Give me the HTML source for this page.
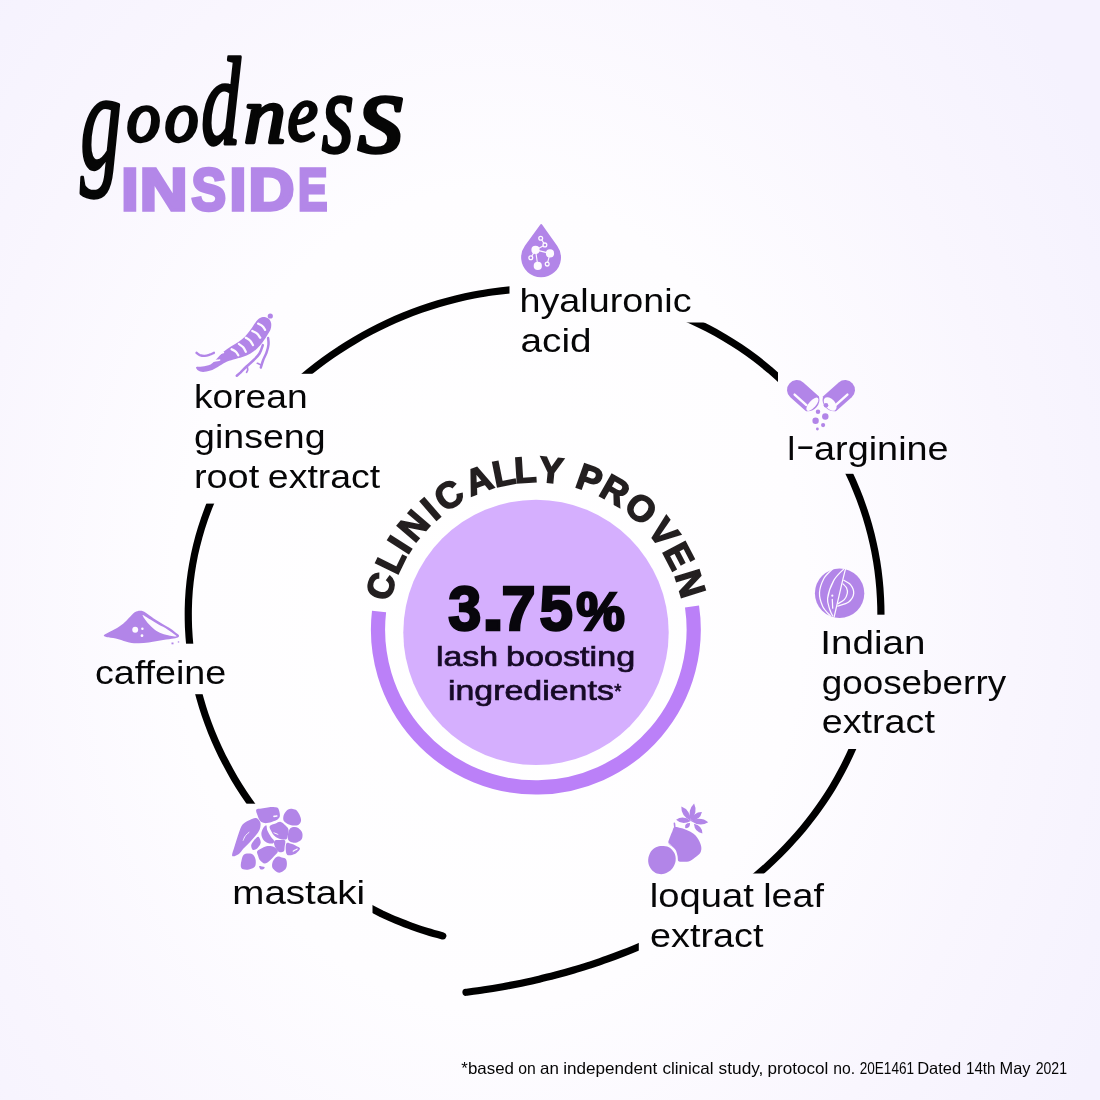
<!DOCTYPE html>
<html lang="en">
<head>
<meta charset="utf-8">
<title>goodness inside</title>
<style>
html,body{margin:0;padding:0;background:#f6f3fe;}
body{width:1100px;height:1100px;overflow:hidden;}
svg{display:block;will-change:transform;}
text{font-family:"Liberation Sans",sans-serif;}
.lbl{font-size:33px;fill:#060607;stroke:#060607;stroke-width:0;}
.scr{font-family:"Liberation Serif",serif;}
.ctr{font-size:28.5px;fill:#160a26;stroke:#160a26;stroke-width:0.7px;}
.foot{font-size:16.5px;fill:#050505;}
</style>
</head>
<body>
<svg width="1100" height="1100" viewBox="0 0 1100 1100">
<defs>
<radialGradient id="bg" gradientUnits="userSpaceOnUse" cx="490" cy="600" r="700" gradientTransform="translate(0 600) scale(1 1.3) translate(0 -600)">
<stop offset="0" stop-color="#ffffff"/>
<stop offset="0.45" stop-color="#fefdff"/>
<stop offset="0.75" stop-color="#f9f6fe"/>
<stop offset="1" stop-color="#f5f2fe"/>
</radialGradient>

<mask id="gapmask" maskUnits="userSpaceOnUse" x="0" y="0" width="1100" height="1100">
<rect x="0" y="0" width="1100" height="1100" fill="#fff"/>
<rect x="172.5" y="803.7" width="200.0" height="126.3" fill="#000"/>
<rect x="80.0" y="643.7" width="160.0" height="50.5" fill="#000"/>
<rect x="180.0" y="373.8" width="220.0" height="129.8" fill="#000"/>
<rect x="509.5" y="200.0" width="202.5" height="122.5" fill="#000"/>
<rect x="778.0" y="360.0" width="182.0" height="113.8" fill="#000"/>
<rect x="800.0" y="614.7" width="220.0" height="134.3" fill="#000"/>
<rect x="638.8" y="873.5" width="201.2" height="86.5" fill="#000"/>
</mask>
</defs>
<rect x="0" y="0" width="1100" height="1100" fill="url(#bg)"/>
<g mask="url(#gapmask)"><path d="M442.8 935.9 C440.2 935.2 432.4 933.1 427.2 931.5 C422.0 929.9 416.9 928.2 411.8 926.3 C406.6 924.5 401.6 922.5 396.5 920.4 C391.5 918.3 386.5 916.0 381.5 913.7 C376.6 911.3 371.7 908.8 366.9 906.2 C362.0 903.6 357.2 900.9 352.5 898.0 C347.8 895.2 343.1 892.2 338.5 889.1 C333.9 886.0 329.4 882.8 324.9 879.5 C320.5 876.1 316.1 872.7 311.8 869.1 C307.5 865.6 303.2 861.9 299.1 858.1 C294.9 854.3 290.9 850.4 286.9 846.4 C282.9 842.4 279.0 838.3 275.3 834.1 C271.5 829.9 267.8 825.6 264.2 821.2 C260.6 816.8 257.1 812.2 253.7 807.6 C250.3 803.0 247.0 798.3 243.8 793.5 C240.7 788.7 237.6 783.8 234.6 778.8 C231.7 773.8 228.9 768.8 226.2 763.6 C223.4 758.5 220.8 753.2 218.4 747.9 C215.9 742.6 213.6 737.2 211.4 731.8 C209.2 726.3 207.1 720.8 205.2 715.2 C203.3 709.6 201.6 703.9 200.0 698.2 C198.3 692.4 196.9 686.7 195.6 680.8 C194.3 675.0 193.2 669.1 192.2 663.2 C191.3 657.2 190.5 651.3 189.8 645.3 C189.2 639.3 188.8 633.2 188.5 627.2 C188.3 621.2 188.2 615.1 188.3 609.0 C188.4 603.0 188.7 596.9 189.2 590.8 C189.7 584.7 190.4 578.7 191.3 572.6 C192.2 566.6 193.3 560.6 194.5 554.6 C195.8 548.6 197.3 542.7 198.9 536.8 C200.5 530.9 202.4 525.0 204.4 519.2 C206.4 513.4 208.5 507.7 210.9 502.0 C213.2 496.4 215.8 490.8 218.4 485.3 C221.1 479.7 224.0 474.3 227.0 468.9 C230.0 463.6 233.1 458.3 236.4 453.2 C239.7 448.0 243.2 442.9 246.7 437.9 C250.3 433.0 254.0 428.1 257.9 423.3 C261.7 418.6 265.7 413.9 269.8 409.4 C273.9 404.8 278.1 400.4 282.5 396.1 C286.8 391.7 291.2 387.5 295.8 383.4 C300.3 379.4 305.0 375.4 309.7 371.5 C314.5 367.7 319.3 364.0 324.2 360.4 C329.1 356.8 334.2 353.3 339.3 350.0 C344.3 346.6 349.5 343.4 354.8 340.3 C360.0 337.2 365.3 334.2 370.7 331.4 C376.1 328.5 381.6 325.8 387.1 323.2 C392.6 320.6 398.2 318.2 403.9 315.9 C409.5 313.6 415.2 311.4 420.9 309.4 C426.7 307.4 432.5 305.5 438.3 303.7 C444.2 302.0 450.1 300.4 456.0 298.9 C462.0 297.5 467.9 296.2 473.9 295.0 C479.9 293.9 486.0 292.8 492.0 292.0 C498.1 291.1 504.2 290.4 510.3 289.9 C516.4 289.3 522.5 288.9 528.6 288.7 C534.7 288.4 540.9 288.3 547.0 288.4 C553.2 288.5 559.3 288.7 565.5 289.1 C571.6 289.5 577.7 290.0 583.8 290.7 C590.0 291.4 596.1 292.2 602.2 293.3 C608.3 294.3 614.3 295.4 620.4 296.8 C626.4 298.1 632.4 299.6 638.4 301.2 C644.3 302.8 650.3 304.6 656.2 306.6 C662.0 308.5 667.9 310.6 673.7 312.9 C679.5 315.2 685.2 317.6 690.9 320.1 C696.5 322.7 702.1 325.4 707.7 328.3 C713.2 331.1 718.7 334.2 724.0 337.3 C729.4 340.5 734.7 343.8 739.9 347.3 C745.1 350.8 750.2 354.4 755.2 358.2 C760.1 361.9 765.0 365.9 769.8 369.9 C774.5 374.0 779.2 378.2 783.7 382.5 C788.2 386.9 792.6 391.4 796.8 396.0 C801.0 400.6 805.1 405.3 809.1 410.2 C813.0 415.0 816.8 420.0 820.5 425.1 C824.1 430.1 827.6 435.3 831.0 440.6 C834.3 445.9 837.5 451.3 840.5 456.7 C843.5 462.2 846.4 467.7 849.1 473.3 C851.8 478.9 854.3 484.6 856.6 490.4 C859.0 496.1 861.2 502.0 863.2 507.8 C865.2 513.7 867.1 519.6 868.7 525.5 C870.4 531.5 871.9 537.5 873.2 543.5 C874.6 549.5 875.7 555.6 876.7 561.6 C877.7 567.7 878.5 573.8 879.1 579.9 C879.8 586.0 880.2 592.1 880.5 598.2 C880.8 604.3 881.0 610.4 880.9 616.5 C880.9 622.6 880.7 628.6 880.3 634.7 C879.9 640.7 879.4 646.8 878.7 652.8 C878.0 658.8 877.1 664.7 876.1 670.7 C875.1 676.6 873.9 682.5 872.6 688.3 C871.2 694.2 869.8 700.0 868.1 705.7 C866.5 711.4 864.7 717.1 862.7 722.7 C860.8 728.3 858.7 733.9 856.5 739.3 C854.3 744.8 851.9 750.2 849.4 755.6 C846.9 760.9 844.3 766.1 841.5 771.3 C838.8 776.5 835.9 781.6 832.9 786.6 C829.9 791.6 826.7 796.5 823.5 801.3 C820.2 806.1 816.9 810.8 813.4 815.4 C809.9 820.0 806.3 824.6 802.7 829.0 C799.0 833.4 795.2 837.7 791.3 841.9 C787.5 846.2 783.5 850.3 779.5 854.3 C775.4 858.3 771.3 862.3 767.1 866.1 C762.9 869.9 758.6 873.6 754.3 877.2 C750.0 880.9 745.5 884.4 741.1 887.8 C736.6 891.3 732.0 894.6 727.4 897.8 C722.8 901.1 718.2 904.2 713.5 907.3 C708.7 910.3 704.0 913.3 699.2 916.2 C694.3 919.1 689.5 921.9 684.5 924.6 C679.6 927.3 674.6 929.9 669.6 932.4 C664.6 935.0 659.5 937.4 654.4 939.8 C649.3 942.2 644.1 944.5 638.9 946.7 C633.7 949.0 628.4 951.1 623.1 953.2 C617.8 955.3 612.4 957.3 607.0 959.2 C601.6 961.2 596.1 963.0 590.6 964.8 C585.0 966.6 579.5 968.4 573.8 970.0 C568.2 971.7 562.5 973.3 556.7 974.8 C550.9 976.3 545.1 977.8 539.2 979.2 C533.3 980.6 527.3 981.9 521.3 983.2 C515.2 984.4 509.1 985.6 502.9 986.7 C496.7 987.8 490.2 988.9 484.1 989.8 C477.9 990.8 469.0 991.9 466.0 992.3" fill="none" stroke="#000" stroke-width="7.2" stroke-linecap="round" stroke-linejoin="round"/></g>
<circle cx="536.0" cy="632.4" r="132.7" fill="#d5affe"/>
<path d="M692.01 606.54 A157.85 157.85 0 1 1 379.05 611.46" fill="none" stroke="#bb80f8" stroke-width="14.2"/>
<text x="389.3 397.1 407.6 414.6 434.7 444.6 470.7 495.3 515.0 538.0 559.5 574.0 597.5 622.2 646.6 662.1 674.5" y="602.3 576.0 555.5 543.8 521.7 512.7 496.6 487.3 483.1 481.6 483.9 486.5 494.7 508.8 530.6 550.9 574.7" rotate="-73.8 -63.9 -57.6 -49.3 -40.9 -32.6 -20.9 -11.3 -3.6 5.4 11.0 19.6 29.6 40.6 52.4 62.4 72.9" font-size="36.2" font-weight="bold" fill="#231f20" stroke="#231f20" stroke-width="1.6" stroke-linejoin="miter" stroke-miterlimit="3">CLINICALLY PROVEN</text>
<text y="630.1" font-size="62.3" font-weight="bold" fill="#08060c" stroke="#08060c" stroke-width="2.5" stroke-linejoin="miter" stroke-miterlimit="3"><tspan x="448.31" textLength="33.06" lengthAdjust="spacingAndGlyphs" font-size="62.3">3</tspan><tspan x="481.76" textLength="22.58" lengthAdjust="spacingAndGlyphs" font-size="62.3">.</tspan><tspan x="501.55" textLength="34.08" lengthAdjust="spacingAndGlyphs" font-size="62.3">7</tspan><tspan x="539.42" textLength="33.39" lengthAdjust="spacingAndGlyphs" font-size="62.3">5</tspan><tspan x="576.31" textLength="48.57" lengthAdjust="spacingAndGlyphs" font-size="54.5">%</tspan></text>
<text class="lbl" x="519.50" y="311.6" textLength="172.02" lengthAdjust="spacingAndGlyphs">hyaluronic</text>
<text class="lbl" x="520.50" y="351.6" textLength="71.06" lengthAdjust="spacingAndGlyphs">acid</text>
<text class="lbl" x="193.90" y="408.0" textLength="113.71" lengthAdjust="spacingAndGlyphs">korean</text>
<text class="lbl" x="194.10" y="448.0" textLength="131.45" lengthAdjust="spacingAndGlyphs">ginseng</text>
<text class="lbl" x="94.90" y="683.6" textLength="131.44" lengthAdjust="spacingAndGlyphs">caffeine</text>
<text class="lbl" x="232.30" y="903.5" textLength="132.80" lengthAdjust="spacingAndGlyphs">mastaki</text>
<text class="lbl" x="820.30" y="653.6" textLength="105.12" lengthAdjust="spacingAndGlyphs">Indian</text>
<text class="lbl" x="821.70" y="693.6" textLength="184.42" lengthAdjust="spacingAndGlyphs">gooseberry</text>
<text class="lbl" x="821.70" y="733.4" textLength="113.21" lengthAdjust="spacingAndGlyphs">extract</text>
<text class="lbl" x="650.10" y="946.6" textLength="113.32" lengthAdjust="spacingAndGlyphs">extract</text>
<text class="scr" font-style="italic" fill="#060606" stroke="#060606" stroke-width="3.4" stroke-linejoin="round" stroke-linecap="round"><tspan x="80.62" y="168.41" font-size="140.4" textLength="41.06" lengthAdjust="spacingAndGlyphs">g</tspan><tspan x="126.68" y="141.37" font-size="72.6" textLength="33.64" lengthAdjust="spacingAndGlyphs">o</tspan><tspan x="164.68" y="141.37" font-size="72.6" textLength="33.64" lengthAdjust="spacingAndGlyphs">o</tspan><tspan x="201.34" y="144.05" font-size="125.1" textLength="39.30" lengthAdjust="spacingAndGlyphs">d</tspan><tspan x="243.66" y="141.70" font-size="80.0" textLength="42.18" lengthAdjust="spacingAndGlyphs">n</tspan><tspan x="287.59" y="139.71" font-size="79.4" textLength="30.27" lengthAdjust="spacingAndGlyphs">e</tspan><tspan x="321.71" y="152.14" font-size="115.6" textLength="32.07" lengthAdjust="spacingAndGlyphs">s</tspan><tspan x="357.23" y="151.73" font-size="116.8" textLength="47.78" lengthAdjust="spacingAndGlyphs">s</tspan></text>
<text y="210.1" font-size="59.4" font-weight="bold" fill="#b387e8" stroke="#b387e8" stroke-width="3.5" stroke-linejoin="miter" stroke-miterlimit="3"><tspan x="121.21" textLength="17.30" lengthAdjust="spacingAndGlyphs">I</tspan><tspan x="139.74" textLength="47.86" lengthAdjust="spacingAndGlyphs">N</tspan><tspan x="191.38" textLength="34.49" lengthAdjust="spacingAndGlyphs">S</tspan><tspan x="229.60" textLength="16.92" lengthAdjust="spacingAndGlyphs">I</tspan><tspan x="248.63" textLength="45.87" lengthAdjust="spacingAndGlyphs">D</tspan><tspan x="298.01" textLength="29.46" lengthAdjust="spacingAndGlyphs">E</tspan></text>
<text class="lbl" y="459.6"><tspan x="787.26" y="459.6" textLength="8.08" lengthAdjust="spacingAndGlyphs">l</tspan><tspan x="795.67" y="457.4" textLength="19.17" lengthAdjust="spacingAndGlyphs">-</tspan><tspan x="814.01" y="459.6" textLength="134.66" lengthAdjust="spacingAndGlyphs">arginine</tspan></text>
<text class="lbl" y="488.0"><tspan x="193.90" textLength="65.36" lengthAdjust="spacingAndGlyphs">root</tspan> <tspan x="267.83" textLength="112.43" lengthAdjust="spacingAndGlyphs">extract</tspan></text>
<text class="lbl" y="907.0"><tspan x="649.74" textLength="104.02" lengthAdjust="spacingAndGlyphs">loquat</tspan> <tspan x="763.17" textLength="60.78" lengthAdjust="spacingAndGlyphs">leaf</tspan></text>
<text class="ctr" y="665.5"><tspan x="435.98" textLength="62.18" lengthAdjust="spacingAndGlyphs">lash</tspan> <tspan x="505.93" textLength="129.32" lengthAdjust="spacingAndGlyphs">boosting</tspan></text>
<text class="ctr" y="699.5"><tspan x="447.98" textLength="165.89" lengthAdjust="spacingAndGlyphs">ingredients</tspan><tspan x="614.25" y="697.77" font-size="20.2" textLength="7.19" lengthAdjust="spacingAndGlyphs">*</tspan></text>
<text class="foot" y="1073.5"><tspan x="461.33" textLength="52.61" lengthAdjust="spacingAndGlyphs">*based</tspan> <tspan x="518.24" textLength="17.52" lengthAdjust="spacingAndGlyphs">on</tspan> <tspan x="540.09" textLength="18.80" lengthAdjust="spacingAndGlyphs">an</tspan> <tspan x="563.15" textLength="94.15" lengthAdjust="spacingAndGlyphs">independent</tspan> <tspan x="662.48" textLength="51.16" lengthAdjust="spacingAndGlyphs">clinical</tspan> <tspan x="718.62" textLength="44.80" lengthAdjust="spacingAndGlyphs">study,</tspan> <tspan x="767.61" textLength="60.76" lengthAdjust="spacingAndGlyphs">protocol</tspan> <tspan x="833.16" textLength="21.84" lengthAdjust="spacingAndGlyphs">no.</tspan> <tspan x="859.72" textLength="54.33" lengthAdjust="spacingAndGlyphs">20E1461</tspan> <tspan x="917.15" textLength="44.02" lengthAdjust="spacingAndGlyphs">Dated</tspan> <tspan x="965.95" textLength="29.58" lengthAdjust="spacingAndGlyphs">14th</tspan> <tspan x="999.56" textLength="30.95" lengthAdjust="spacingAndGlyphs">May</tspan> <tspan x="1035.70" textLength="31.29" lengthAdjust="spacingAndGlyphs">2021</tspan></text>
<g id="ic-drop">
<path d="M540.0 225.1 Q541.2 222.7 542.4 225.1 L557.3 245.9 A19.92 19.92 0 1 1 524.9 245.8 Z" fill="#b285e8"/>
<path d="M540.7 238.3 L544.9 244.9" stroke="#fdfaff" stroke-width="1.1" fill="none"/>
<path d="M544.9 244.9 L535.5 249.9" stroke="#fdfaff" stroke-width="1.1" fill="none"/>
<path d="M535.5 249.9 L550.0 253.4" stroke="#fdfaff" stroke-width="1.1" fill="none"/>
<path d="M535.5 249.9 L530.8 257.8" stroke="#fdfaff" stroke-width="1.1" fill="none"/>
<path d="M535.5 249.9 L537.8 265.9" stroke="#fdfaff" stroke-width="1.1" fill="none"/>
<path d="M550.0 253.4 L547.2 264.1" stroke="#fdfaff" stroke-width="1.1" fill="none"/>
<circle cx="535.5" cy="249.9" r="4.10" fill="#fdfaff" />
<circle cx="550.0" cy="253.4" r="4.10" fill="#fdfaff" />
<circle cx="537.8" cy="265.9" r="4.10" fill="#fdfaff" />
<circle cx="540.7" cy="238.3" r="1.9" fill="#b285e8" stroke="#fdfaff" stroke-width="1.3"/>
<circle cx="544.9" cy="244.9" r="1.9" fill="#b285e8" stroke="#fdfaff" stroke-width="1.3"/>
<circle cx="530.8" cy="257.8" r="1.9" fill="#b285e8" stroke="#fdfaff" stroke-width="1.3"/>
<circle cx="547.2" cy="264.1" r="1.9" fill="#b285e8" stroke="#fdfaff" stroke-width="1.3"/>
</g>
<g id="ic-caps">
<g transform="translate(796.8 389.9) scale(1 1) rotate(41.5)">
<path d="M0 -9.8 A9.8 9.8 0 0 0 0 9.8 L21 9.8 Q26.3 6 26.3 0 Q26.3 -6 21 -9.8 Z" fill="#b285e8"/>
<ellipse cx="21.2" cy="0.4" rx="3.5" ry="8.3" fill="#fdfaff"/>
<path d="M1.5 5.0 L17.2 5.0" stroke="#fdfaff" stroke-width="2.4" stroke-linecap="round" fill="none"/>
</g>
<g transform="translate(845.2 389.9) scale(-1 1) rotate(41.5)">
<path d="M0 -9.8 A9.8 9.8 0 0 0 0 9.8 L21 9.8 Q26.3 6 26.3 0 Q26.3 -6 21 -9.8 Z" fill="#b285e8"/>
<ellipse cx="20.6" cy="0.6" rx="5.0" ry="8.0" fill="#fdfaff"/>
<path d="M1.5 5.0 L17.2 5.0" stroke="#fdfaff" stroke-width="2.4" stroke-linecap="round" fill="none"/>
</g>
<circle cx="826.0" cy="405.2" r="2.31" fill="#b285e8" />
<circle cx="818.0" cy="411.7" r="2.24" fill="#b285e8" />
<circle cx="825.3" cy="416.5" r="3.21" fill="#b285e8" />
<circle cx="815.6" cy="420.8" r="3.21" fill="#b285e8" />
<circle cx="823.1" cy="425.1" r="2.09" fill="#b285e8" />
<circle cx="817.4" cy="429.0" r="1.42" fill="#b285e8" />
</g>
<g id="ic-goose">
<circle cx="839.6" cy="593.3" r="24.70" fill="#b285e8" />
<g fill="none" stroke="#fdfaff" stroke-width="1.25" stroke-linecap="round">
<path d="M845.6 568.7C844.7 572.1 842.5 581.0 840.6 589.1C838.7 597.1 835.2 612.5 834.1 617.2"/>
<path d="M832.3 569.3C830.9 570.8 826.1 574.6 823.9 578.5C821.8 582.5 819.7 588.1 819.5 592.8C819.3 597.4 820.9 602.5 822.7 606.4C824.5 610.2 829.1 614.4 830.4 615.9"/>
<path d="M843.4 569.3C841.8 571.1 836.4 575.6 833.8 580.4C831.2 585.2 828.3 593.5 827.6 598.3C827.0 603.2 829.0 606.5 829.8 609.5C830.6 612.4 832.2 614.9 832.7 615.9"/>
<path d="M843.8 580.3C844.9 581.0 848.9 582.5 850.5 584.7C852.2 586.9 854.0 590.5 853.7 593.4C853.4 596.3 851.3 599.9 848.7 602.0C846.0 604.1 839.5 605.4 837.7 606.1"/>
<path d="M843.0 583.8C843.6 584.5 845.8 586.2 846.5 587.8C847.2 589.4 847.7 591.4 847.3 593.4C846.9 595.3 845.9 597.9 844.3 599.6C842.8 601.3 839.2 602.9 838.1 603.6"/>
<path d="M832.3 599.3C832.3 599.9 832.4 601.8 832.5 603.3C832.5 604.8 832.7 607.4 832.7 608.2"/>
</g>
<circle cx="832.3" cy="595.7" r="1.10" fill="#fdfaff" />
</g>
<g id="ic-loq">
<path d="M661.9 846.0C664.0 846.0 666.8 846.0 668.9 847.2C671.0 848.4 673.3 850.8 674.4 853.1C675.5 855.4 676.0 858.3 675.6 860.9C675.2 863.5 673.9 866.6 672.1 868.7C670.2 870.9 667.0 873.1 664.2 873.8C661.5 874.5 658.0 874.1 655.6 873.0C653.2 871.9 651.0 869.4 649.8 867.1C648.5 864.9 648.0 861.9 648.2 859.3C648.4 856.7 649.6 853.5 650.9 851.5C652.2 849.5 654.2 848.1 656.0 847.2C657.9 846.3 659.7 846.0 661.9 846.0Z" fill="#b285e8" />
<path d="M674.4 827.1C675.8 826.6 678.1 827.3 680.7 828.1C683.3 828.8 687.3 830.0 690.0 831.6C692.8 833.1 695.2 835.0 697.1 837.4C698.9 839.8 700.6 843.4 701.1 846.0C701.7 848.6 701.3 851.1 700.2 853.1C699.1 855.0 696.4 856.5 694.7 857.8C693.0 859.1 691.9 860.2 690.0 860.9C688.2 861.6 685.7 861.8 683.8 861.8C681.8 861.8 679.4 862.0 678.3 860.9C677.2 859.8 677.8 857.2 677.4 855.4C676.9 853.6 676.6 851.5 675.6 849.9C674.6 848.4 672.5 847.2 671.3 846.0C670.1 844.9 668.5 844.5 668.3 842.9C668.1 841.3 669.4 838.6 670.1 836.7C670.8 834.7 671.7 832.8 672.4 831.2C673.2 829.6 673.0 827.6 674.4 827.1Z" fill="#b285e8" />
<path d="M668.5 843.3C669.3 844.0 671.6 845.8 672.8 847.6C674.1 849.4 675.4 851.6 676.1 853.9C676.9 856.1 677.2 859.7 677.4 860.9" fill="none" stroke="#fdfaff" stroke-width="0.90" stroke-linecap="round" stroke-linejoin="round" />
<path d="M674.8 826.9C674.7 826.3 674.5 824.0 674.4 823.4" fill="none" stroke="#b285e8" stroke-width="1.60" stroke-linecap="round" stroke-linejoin="round" />
<path d="M690.8 820.9 Q690.2 809.9 681.3 806.6 Q680.9 816.1 690.8 820.9 Z" fill="#b285e8"/>
<path d="M690.8 820.9 Q698.3 812.3 694.1 803.4 Q686.9 810.2 690.8 820.9 Z" fill="#b285e8"/>
<path d="M690.8 820.9 Q700.3 820.2 701.9 812.0 Q693.6 811.8 690.8 820.9 Z" fill="#b285e8"/>
<path d="M690.8 820.9 Q699.9 827.2 708.2 822.2 Q700.8 816.0 690.8 820.9 Z" fill="#b285e8"/>
<path d="M693.9 823.8 Q694.8 832.3 702.4 833.4 Q702.3 825.7 693.9 823.8 Z" fill="#b285e8"/>
<path d="M690.8 820.9 Q683.1 814.9 676.1 819.8 Q682.4 825.7 690.8 820.9 Z" fill="#b285e8"/>
<path d="M690.0 823.0 Q684.3 822.9 685.2 828.1 Q690.4 828.7 690.0 823.0 Z" fill="#b285e8"/>
</g>
<g id="ic-mas">
<path d="M232.2 855.9C231.6 854.5 233.8 849.2 234.9 845.3C236.1 841.5 237.6 836.4 238.9 832.8C240.2 829.3 240.9 826.4 242.8 824.2C244.6 822.1 247.6 821.0 249.8 819.9C252.0 818.9 254.3 817.5 256.1 818.0C257.8 818.4 259.8 820.7 260.4 822.7C260.9 824.6 260.4 827.5 259.6 829.7C258.7 831.9 256.9 833.9 255.3 836.0C253.6 838.1 251.8 840.1 249.8 842.2C247.8 844.3 245.4 846.5 243.5 848.5C241.7 850.4 240.7 852.7 238.9 853.9C237.0 855.2 232.9 857.3 232.2 855.9Z" fill="#b285e8" />
<path d="M256.2 809.8C256.9 808.6 259.6 809.0 261.5 808.6C263.5 808.2 265.6 807.7 267.8 807.4C270.0 807.2 273.1 807.0 274.8 807.2C276.6 807.4 277.5 807.2 278.3 808.6C279.2 810.0 280.0 813.9 279.9 815.6C279.8 817.4 279.3 818.1 277.9 819.2C276.6 820.2 273.9 821.2 271.7 821.9C269.5 822.5 266.6 823.3 264.7 823.1C262.7 822.9 261.1 822.0 260.0 820.7C258.8 819.5 258.2 817.5 257.6 815.6C257.0 813.8 255.6 810.9 256.2 809.8Z" fill="#b285e8" />
<path d="M288.1 809.5C289.5 808.7 291.4 808.8 292.8 809.0C294.2 809.2 295.5 809.3 296.7 810.6C298.0 811.8 299.5 814.7 300.2 816.4C300.9 818.2 301.3 819.7 301.0 821.1C300.7 822.5 299.9 824.2 298.3 824.9C296.6 825.5 293.3 825.5 291.2 825.2C289.2 824.8 287.1 823.6 285.8 822.7C284.4 821.7 283.5 821.0 283.3 819.5C283.0 818.1 283.4 815.7 284.2 814.1C285.0 812.4 286.7 810.4 288.1 809.5Z" fill="#b285e8" />
<path d="M269.7 826.2C270.5 824.9 273.8 824.2 275.6 823.5C277.4 822.7 279.0 821.5 280.7 821.9C282.4 822.3 284.5 824.5 285.8 825.8C287.1 827.1 288.2 828.0 288.5 829.7C288.8 831.4 288.2 834.3 287.7 836.0C287.3 837.6 287.3 839.1 285.8 839.5C284.3 839.9 280.7 839.1 278.7 838.5C276.8 837.8 275.3 836.8 274.0 835.6C272.8 834.4 272.0 832.8 271.3 831.3C270.6 829.7 269.0 827.5 269.7 826.2Z" fill="#b285e8" />
<path d="M290.3 828.3C291.3 827.2 293.0 827.0 294.4 827.0C295.7 826.9 297.0 827.2 298.3 828.1C299.6 829.1 301.6 831.0 302.2 832.8C302.8 834.7 302.6 837.5 301.8 839.1C301.0 840.7 299.0 841.6 297.5 842.2C296.0 842.8 294.3 843.0 292.8 842.6C291.3 842.2 289.1 841.4 288.3 839.9C287.5 838.4 287.8 835.5 288.1 833.6C288.5 831.7 289.3 829.4 290.3 828.3Z" fill="#b285e8" />
<path d="M266.2 825.2C267.0 825.4 266.6 828.6 267.4 830.5C268.2 832.4 269.8 835.1 270.9 836.7C272.0 838.4 273.7 839.5 274.0 840.7C274.4 841.8 273.9 843.0 272.9 843.4C271.8 843.8 269.3 843.6 267.8 843.0C266.2 842.4 264.6 841.3 263.5 839.9C262.4 838.4 261.5 836.2 261.4 834.4C261.2 832.6 261.9 830.5 262.7 828.9C263.5 827.4 265.4 824.9 266.2 825.2Z" fill="#b285e8" />
<path d="M258.4 836.7C259.5 837.1 260.9 840.7 260.7 842.6C260.6 844.5 258.9 846.8 257.6 848.1C256.3 849.3 254.0 850.5 252.9 850.0C251.9 849.6 251.0 847.0 251.2 845.3C251.4 843.7 252.9 841.7 254.1 840.3C255.3 838.8 257.3 836.4 258.4 836.7Z" fill="#b285e8" />
<path d="M257.2 851.2C257.9 850.0 260.6 848.9 262.3 848.1C264.1 847.2 265.8 846.3 267.8 846.1C269.7 845.9 272.3 846.1 274.0 846.9C275.7 847.8 277.9 849.6 277.9 851.2C277.9 852.8 275.5 854.7 274.0 856.3C272.6 857.9 270.9 859.8 269.3 861.0C267.8 862.2 266.2 863.6 264.7 863.5C263.1 863.4 261.1 861.5 260.0 860.2C258.9 858.9 258.5 857.0 258.0 855.5C257.6 854.0 256.5 852.4 257.2 851.2Z" fill="#b285e8" />
<path d="M274.8 840.5C275.8 839.7 278.6 839.9 280.3 839.9C282.0 839.9 284.4 839.3 285.1 840.5C285.9 841.7 284.8 845.1 284.6 846.9C284.4 848.7 284.7 850.4 283.8 851.2C282.9 852.1 280.4 852.4 279.1 852.0C277.8 851.5 276.8 849.7 276.0 848.5C275.2 847.2 274.4 845.9 274.2 844.6C274.0 843.2 273.8 841.3 274.8 840.5Z" fill="#b285e8" />
<path d="M286.5 843.2C287.5 842.1 289.7 843.4 291.2 843.8C292.8 844.2 294.5 844.9 295.9 845.7C297.4 846.5 299.9 847.5 300.0 848.6C300.1 849.8 297.9 851.8 296.7 852.8C295.5 853.8 294.4 854.4 292.8 854.7C291.2 855.1 288.5 855.7 287.3 854.9C286.2 854.1 285.9 852.0 285.8 850.0C285.6 848.1 285.6 844.2 286.5 843.2Z" fill="#b285e8" />
<path d="M243.5 854.9C244.8 853.6 247.4 853.5 249.0 853.6C250.6 853.6 252.2 854.0 253.3 855.1C254.4 856.2 255.4 858.3 255.7 860.2C255.9 862.1 255.9 865.0 254.9 866.5C253.9 868.0 251.6 868.7 249.8 869.2C248.0 869.7 245.8 869.9 244.3 869.6C242.9 869.3 241.5 868.7 241.0 867.2C240.5 865.8 240.9 863.0 241.4 861.0C241.8 858.9 242.3 856.1 243.5 854.9Z" fill="#b285e8" />
<path d="M277.2 856.7C278.6 856.2 280.4 857.1 281.9 857.5C283.3 857.9 284.9 857.9 285.8 859.0C286.6 860.1 287.0 862.4 286.9 864.1C286.9 865.8 286.6 867.8 285.4 869.2C284.1 870.6 281.3 872.5 279.5 872.7C277.8 872.9 276.1 871.4 274.8 870.4C273.6 869.3 272.3 868.1 272.1 866.5C271.8 864.8 272.4 862.2 273.3 860.6C274.1 859.0 275.7 857.2 277.2 856.7Z" fill="#b285e8" />
<path d="M259.2 866.1C259.5 865.6 261.4 866.2 262.3 866.5C263.2 866.7 264.5 866.9 264.7 867.4C264.8 867.9 263.8 868.9 263.1 869.2C262.4 869.5 261.0 869.7 260.4 869.2C259.7 868.7 258.9 866.5 259.2 866.1Z" fill="#b285e8" />
<path d="M274.0 816.4C274.5 816.4 276.3 816.1 276.8 816.0" fill="none" stroke="#fdfaff" stroke-width="1.60" stroke-linecap="round" stroke-linejoin="round" />
<path d="M243.2 840.3C243.5 839.5 244.5 836.9 245.5 835.6C246.5 834.3 248.4 833.0 249.0 832.4" fill="none" stroke="#fdfaff" stroke-width="0.90" stroke-linecap="round" stroke-linejoin="round" />
<path d="M274.0 832.8C274.7 833.1 277.3 834.1 277.9 834.4" fill="none" stroke="#fdfaff" stroke-width="1.00" stroke-linecap="round" stroke-linejoin="round" />
<path d="M293.2 851.2C293.8 850.8 296.5 849.3 297.1 848.9" fill="none" stroke="#fdfaff" stroke-width="1.20" stroke-linecap="round" stroke-linejoin="round" />
</g>
<g id="ic-caf">
<path d="M104.1 634.9C105.0 634.1 107.8 632.8 110.3 631.5C112.8 630.1 116.5 628.4 119.3 626.5C122.0 624.7 124.3 622.6 126.6 620.4C129.0 618.2 131.4 615.0 133.2 613.5C135.0 611.9 135.6 611.5 137.3 611.2C138.9 610.8 141.2 610.6 143.0 611.2C144.8 611.7 145.9 612.9 147.9 614.3C150.0 615.7 152.8 618.0 155.3 619.6C157.7 621.2 160.3 622.7 162.6 624.1C165.0 625.5 167.1 626.5 169.2 627.8C171.2 629.1 173.3 630.6 174.9 631.9C176.5 633.1 178.4 634.2 178.8 635.1C179.3 636.1 179.0 637.0 177.8 637.6C176.6 638.2 174.6 638.3 171.6 638.8C168.7 639.3 164.0 639.8 160.2 640.5C156.4 641.1 152.3 642.0 148.7 642.5C145.2 643.0 142.2 643.3 138.9 643.3C135.6 643.3 132.5 643.2 129.1 642.5C125.7 641.8 121.9 640.1 118.5 639.2C115.0 638.4 110.9 637.8 108.6 637.3C106.4 636.9 105.7 636.8 105.0 636.4C104.2 636.0 103.3 635.7 104.1 634.9Z" fill="#b285e8" />
<path d="M142.8 614.9C143.8 615.1 147.7 618.0 150.4 619.6C153.0 621.2 155.7 622.9 158.5 624.5C161.4 626.1 164.8 627.6 167.5 629.4C170.3 631.2 173.9 634.0 175.3 635.1C176.8 636.3 177.0 636.3 176.1 636.4C175.3 636.5 172.4 636.2 170.0 635.7C167.6 635.2 164.4 634.6 161.8 633.5C159.2 632.5 156.6 631.0 154.5 629.4C152.3 627.8 150.4 625.9 148.7 624.1C147.1 622.3 145.6 620.3 144.6 618.8C143.7 617.2 141.9 614.8 142.8 614.9Z" fill="#fdfaff"/>
<circle cx="135.2" cy="629.8" r="2.95" fill="#fdfaff" />
<circle cx="142.4" cy="628.8" r="1.23" fill="#fdfaff" />
<circle cx="142.0" cy="635.7" r="1.39" fill="#fdfaff" />
<rect x="171.5" y="642.5" width="2" height="1.8" fill="#b285e8"/>
<rect x="177.8" y="641.3" width="1.4" height="1.3" fill="#b285e8"/>
</g>
<g id="ic-gin">
<path d="M196.1 367.2C196.8 366.5 199.9 367.0 202.3 366.5C204.7 366.1 208.0 365.9 210.5 364.5C212.9 363.1 214.8 360.5 217.0 358.4C219.2 356.3 221.2 353.8 223.5 351.8C225.9 349.8 228.5 348.1 230.9 346.5C233.4 344.9 236.0 343.6 238.3 342.0C240.6 340.4 242.8 338.7 244.8 336.7C246.9 334.6 248.8 332.1 250.5 329.7C252.3 327.3 254.0 324.3 255.5 322.4C257.0 320.5 258.0 319.2 259.5 318.3C261.0 317.4 262.9 316.9 264.5 317.0C266.0 317.2 267.8 318.0 269.0 319.1C270.1 320.2 270.9 321.9 271.2 323.6C271.4 325.3 271.2 327.5 270.6 329.3C270.0 331.2 269.0 332.5 267.7 334.6C266.4 336.8 264.6 339.7 262.8 342.0C261.0 344.3 259.1 346.6 257.1 348.5C255.0 350.5 253.0 352.0 250.5 353.5C248.1 354.9 245.2 356.1 242.4 357.1C239.5 358.2 236.2 358.7 233.4 359.6C230.5 360.5 227.8 361.2 225.2 362.5C222.6 363.7 220.3 365.6 217.8 367.0C215.4 368.3 212.9 369.8 210.5 370.6C208.0 371.5 205.1 371.9 203.1 371.9C201.0 371.9 199.3 371.4 198.2 370.6C197.0 369.9 195.5 367.9 196.1 367.2Z" fill="#b285e8" />
<circle cx="270.3" cy="316.0" r="2.60" fill="#b285e8" />
<path d="M258.1 323.6C258.8 324.0 261.2 325.0 262.4 326.1C263.6 327.1 264.7 329.3 265.1 329.9" fill="none" stroke="#fdfaff" stroke-width="2.30" stroke-linecap="round" stroke-linejoin="round" />
<path d="M252.3 331.0C253.1 331.4 255.8 332.6 257.1 333.7C258.4 334.8 259.7 337.1 260.2 337.7" fill="none" stroke="#fdfaff" stroke-width="2.30" stroke-linecap="round" stroke-linejoin="round" />
<path d="M245.8 337.7C246.5 338.2 249.0 339.5 250.2 340.7C251.4 342.0 252.5 344.4 253.0 345.1" fill="none" stroke="#fdfaff" stroke-width="2.30" stroke-linecap="round" stroke-linejoin="round" />
<path d="M238.9 344.0C239.6 344.6 242.0 346.0 243.2 347.3C244.3 348.6 245.4 351.1 245.8 351.8" fill="none" stroke="#fdfaff" stroke-width="2.30" stroke-linecap="round" stroke-linejoin="round" />
<path d="M231.6 349.2C232.3 349.6 234.6 350.6 235.7 351.6C236.9 352.6 237.9 354.6 238.3 355.3" fill="none" stroke="#fdfaff" stroke-width="2.30" stroke-linecap="round" stroke-linejoin="round" />
<path d="M216.0 355.1C216.6 354.9 218.2 354.3 219.5 353.9C220.7 353.4 222.7 352.7 223.4 352.5" fill="none" stroke="#fdfaff" stroke-width="1.60" stroke-linecap="round" stroke-linejoin="round" />
<path d="M209.2 362.3C210.1 362.1 212.8 361.4 214.5 361.0C216.3 360.6 218.8 360.2 219.6 360.0" fill="none" stroke="#fdfaff" stroke-width="1.60" stroke-linecap="round" stroke-linejoin="round" />
<path d="M196.5 352.8C197.1 353.2 198.5 354.6 199.8 355.1C201.2 355.6 203.1 356.0 204.7 355.9C206.4 355.8 208.1 355.2 209.6 354.7C211.2 354.2 213.2 353.1 213.9 352.8" fill="none" stroke="#b285e8" stroke-width="2.40" stroke-linecap="round" stroke-linejoin="round" />
<path d="M262.8 345.1C262.3 346.5 261.0 351.0 259.5 353.5C258.0 355.9 256.0 357.8 253.8 360.0C251.6 362.2 248.6 364.5 246.5 366.5C244.3 368.6 242.3 370.7 240.7 372.3C239.1 373.8 237.5 375.1 236.8 375.7" fill="none" stroke="#b285e8" stroke-width="2.50" stroke-linecap="round" stroke-linejoin="round" />
<path d="M247.3 367.0C247.3 367.4 247.8 368.9 247.7 369.8C247.6 370.7 246.8 371.9 246.6 372.3" fill="none" stroke="#b285e8" stroke-width="1.70" stroke-linecap="round" stroke-linejoin="round" />
<path d="M268.1 338.1C268.2 339.1 268.8 342.0 268.5 344.5C268.3 346.9 267.4 350.0 266.5 352.6C265.6 355.2 264.2 357.5 263.2 360.0C262.3 362.5 261.2 366.3 260.8 367.5" fill="none" stroke="#b285e8" stroke-width="2.50" stroke-linecap="round" stroke-linejoin="round" />
<path d="M257.3 363.3C257.6 363.4 258.9 364.0 259.5 364.3C260.2 364.6 261.0 364.9 261.3 365.1" fill="none" stroke="#b285e8" stroke-width="1.70" stroke-linecap="round" stroke-linejoin="round" />
</g>
</svg>
</body>
</html>
